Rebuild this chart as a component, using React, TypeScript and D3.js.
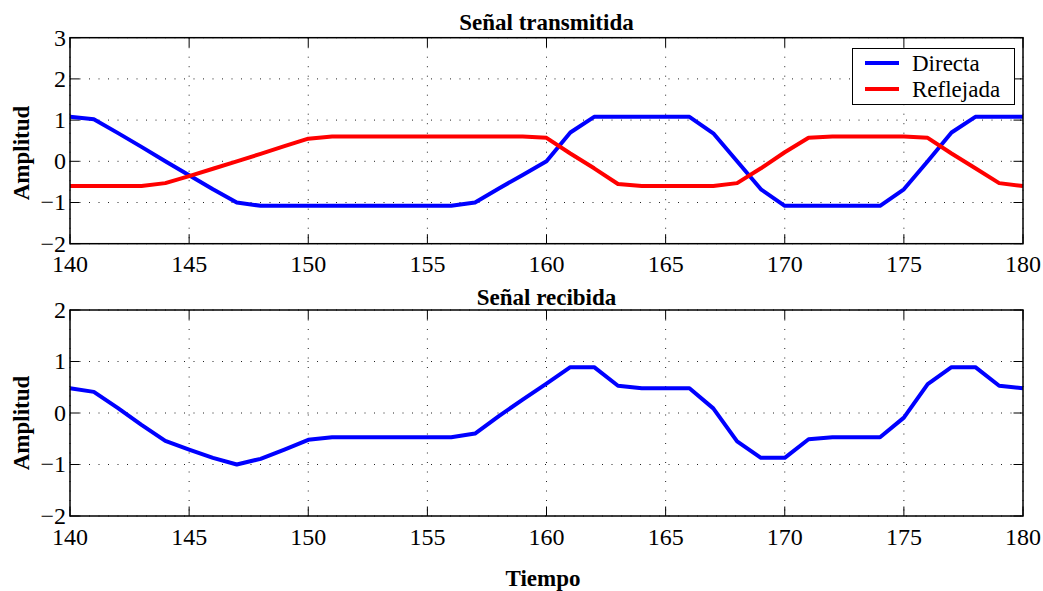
import React from "react";
import * as d3 from "d3";

const time = [140,141,142,143,144,145,146,147,148,149,150,151,152,153,154,155,156,157,158,159,160,161,162,163,164,165,166,167,168,169,170,171,172,173,174,175,176,177,178,179,180];
const directa = [1.08,1.02,0.69,0.35,0.0,-0.34,-0.68,-1.0,-1.08,-1.08,-1.08,-1.08,-1.08,-1.08,-1.08,-1.08,-1.08,-1.0,-0.66,-0.33,0.0,0.7,1.08,1.08,1.08,1.08,1.08,0.68,0.0,-0.68,-1.08,-1.08,-1.08,-1.08,-1.08,-0.68,0.0,0.7,1.08,1.08,1.08];
const reflejada = [-0.6,-0.6,-0.6,-0.6,-0.53,-0.36,-0.18,0.0,0.18,0.37,0.55,0.6,0.6,0.6,0.6,0.6,0.6,0.6,0.6,0.6,0.57,0.19,-0.17,-0.55,-0.6,-0.6,-0.6,-0.6,-0.53,-0.17,0.22,0.57,0.6,0.6,0.6,0.6,0.57,0.19,-0.17,-0.53,-0.6];
const recibida = [0.48,0.41,0.1,-0.23,-0.54,-0.71,-0.87,-1.0,-0.89,-0.71,-0.52,-0.47,-0.47,-0.47,-0.47,-0.47,-0.47,-0.4,-0.06,0.26,0.57,0.89,0.89,0.53,0.48,0.48,0.48,0.09,-0.55,-0.87,-0.87,-0.51,-0.47,-0.47,-0.47,-0.09,0.56,0.89,0.89,0.53,0.48];

const xTicks = [140,145,150,155,160,165,170,175,180];
const yTicksTop = [-2,-1,0,1,2,3];
const yTicksBottom = [-2,-1,0,1,2];
const legendLabels = ["Directa","Reflejada"];
const seriesColors = ["#0000ff","#ff0000"];

const FONT = "'Liberation Serif', 'Times New Roman', Times, serif";
const W = 1043, H = 591;
const left = 70, right = 1023;

type Series = { values: number[]; color: string };

function Panel(props: {
  top: number; bottom: number; yDomain: [number, number]; yTicks: number[];
  title: string; titleY: number; ylabelY: number; series: Series[]; tickLabelY: number;
  legend?: boolean;
}) {
  const { top, bottom, yDomain, yTicks, title, titleY, ylabelY, series, tickLabelY, legend } = props;
  const x = d3.scaleLinear().domain([140, 180]).range([left, right]);
  const y = d3.scaleLinear().domain(yDomain).range([bottom, top]);
  const tl = 9.5;
  const fmt = (v: number) => (v < 0 ? "\u2212" + Math.abs(v) : String(v));
  return (
    <g>
      {xTicks.map((t) => (
        <line key={"gx" + t} x1={x(t)} x2={x(t)} y1={top} y2={bottom}
          stroke="#222" strokeWidth={1} strokeDasharray="1,8.5" />
      ))}
      {yTicks.map((t) => (
        <line key={"gy" + t} x1={left} x2={right} y1={y(t)} y2={y(t)}
          stroke="#222" strokeWidth={1} strokeDasharray="1,8.5" />
      ))}
      {xTicks.map((t) => (
        <g key={"tx" + t}>
          <line x1={x(t)} x2={x(t)} y1={bottom} y2={bottom - tl} stroke="#000" strokeWidth={1} />
          <line x1={x(t)} x2={x(t)} y1={top} y2={top + tl} stroke="#000" strokeWidth={1} />
          <text x={x(t)} y={tickLabelY} textAnchor="middle" fontFamily={FONT} fontSize={24}>{t}</text>
        </g>
      ))}
      {yTicks.map((t) => (
        <g key={"ty" + t}>
          <line x1={left} x2={left + tl} y1={y(t)} y2={y(t)} stroke="#000" strokeWidth={1} />
          <line x1={right} x2={right - tl} y1={y(t)} y2={y(t)} stroke="#000" strokeWidth={1} />
          <text x={left - 4} y={y(t)} dy="0.33em" textAnchor="end" fontFamily={FONT} fontSize={24}>{fmt(t)}</text>
        </g>
      ))}
      {series.map((s, i) => {
        const line = d3.line<number>().x((_, j) => x(time[j])).y((v) => y(v));
        return <path key={"s" + i} d={line(s.values) || ""} fill="none" stroke={s.color} strokeWidth={4} strokeLinejoin="round" />;
      })}
      <rect x={left} y={top} width={right - left} height={bottom - top} fill="none" stroke="#000" strokeWidth={1.5} />
      <text x={(left + right) / 2} y={titleY} textAnchor="middle" fontFamily={FONT} fontWeight="bold" fontSize={23}>{title}</text>
      <text transform={`translate(29,${ylabelY}) rotate(-90)`} textAnchor="middle" fontFamily={FONT} fontWeight="bold" fontSize={23}>Amplitud</text>
      {legend && (
        <g>
          <rect x={852.5} y={48.5} width={162} height={56} fill="#fff" stroke="#000" strokeWidth={1} />
          {legendLabels.map((l, i) => (
            <g key={l}>
              <line x1={865} x2={899} y1={63 + i * 26} y2={63 + i * 26} stroke={seriesColors[i]} strokeWidth={4} />
              <text x={912} y={71 + i * 26} fontFamily={FONT} fontSize={23}>{l}</text>
            </g>
          ))}
        </g>
      )}
    </g>
  );
}

export default function App() {
  return (
    <div style={{ position: "fixed", left: 0, top: 0, width: W, height: H, background: "#fff" }}>
      <svg width={W} height={H} style={{ display: "block" }}>
        <rect width={W} height={H} fill="#fff" />
        <Panel top={37.7} bottom={243.7} yDomain={[-2, 3]} yTicks={yTicksTop}
          title="Señal transmitida" titleY={30} ylabelY={153} tickLabelY={272}
          series={[{ values: directa, color: seriesColors[0] }, { values: reflejada, color: seriesColors[1] }]}
          legend />
        <Panel top={310} bottom={516} yDomain={[-2, 2]} yTicks={yTicksBottom}
          title="Señal recibida" titleY={305} ylabelY={423} tickLabelY={545}
          series={[{ values: recibida, color: seriesColors[0] }]} />
        <text x={543} y={586} textAnchor="middle" fontFamily={FONT} fontWeight="bold" fontSize={23}>Tiempo</text>
      </svg>
    </div>
  );
}
